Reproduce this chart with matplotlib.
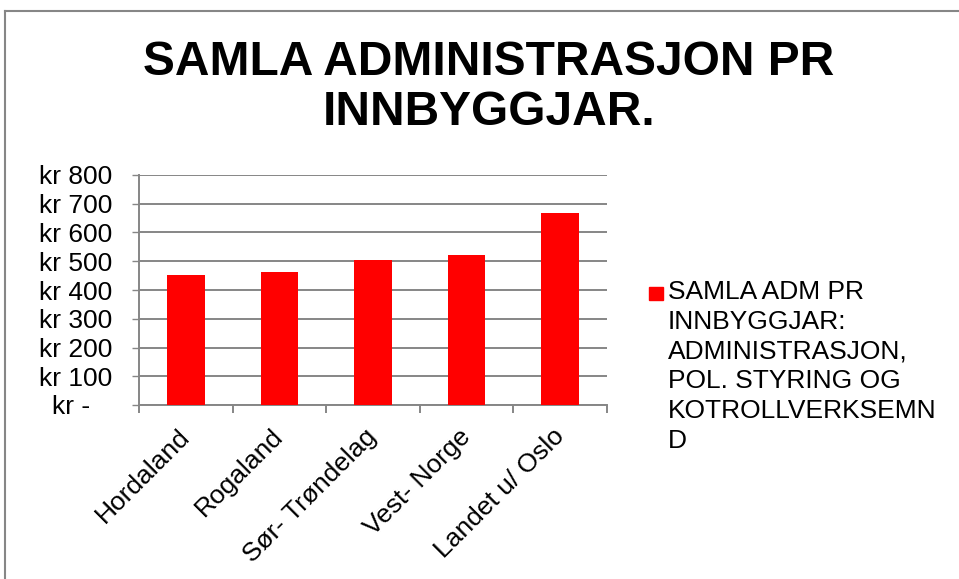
import matplotlib
matplotlib.use('Agg')
from matplotlib import pyplot as plt
from matplotlib.lines import Line2D
from matplotlib.patches import Rectangle
import numpy as np

plt.rcParams['font.family'] = ['Liberation Sans', 'DejaVu Sans']

regions = ['Hordaland', 'Rogaland', 'Sør- Trøndelag', 'Vest- Norge', 'Landet u/ Oslo']
adm_per_capita = [452, 461, 504, 523, 667]
y_ticks = [0, 100, 200, 300, 400, 500, 600, 700, 800]
y_labels = ['kr -   '] + ['kr %d' % v for v in y_ticks[1:]]
series_label = 'SAMLA ADM PR\nINNBYGGJAR:\nADMINISTRASJON,\nPOL. STYRING OG\nKOTROLLVERKSEMN\nD'
title = 'SAMLA ADMINISTRASJON PR\nINNBYGGJAR.'

grey = '#868686'
W, H = 959, 579
fig = plt.figure(figsize=(W / 100, H / 100), dpi=100)
ax = fig.add_axes([139 / W, 1 - 405 / H, (607 - 139) / W, (405 - 175) / H])

x = np.arange(len(regions))
ax.bar(x, adm_per_capita, width=0.4, color='#ff0000', zorder=3)
ax.set_xlim(-0.5, len(regions) - 0.5)
ax.set_ylim(0, 800)

ax.set_yticks(y_ticks)
ax.set_yticklabels(y_labels, fontsize=19)
ax.yaxis.grid(True, color=grey, linewidth=1.4, zorder=0)
ax.tick_params(axis='y', length=5, color=grey, width=1, pad=14)

ax.set_xticks(x)
ax.set_xticklabels(regions, fontsize=19, rotation=45, ha='right', va='center',
                   rotation_mode='anchor')
ax.set_xticks(np.arange(len(regions) + 1) - 0.5, minor=True)
ax.tick_params(axis='x', which='major', length=0, pad=20)
ax.tick_params(axis='x', which='minor', length=6, color=grey, width=1.4)

for s in ['top', 'right']:
    ax.spines[s].set_visible(False)
for s in ['left', 'bottom']:
    ax.spines[s].set_color(grey)
    ax.spines[s].set_linewidth(1.4)

fig.text(489 / W, 1 - 40 / H, title, ha='center', va='top', fontsize=34.5,
         fontweight='bold', linespacing=1.13)

# legend
fig.add_artist(Rectangle((649 / W, 1 - 300 / H), 14 / W, 13 / H,
                         transform=fig.transFigure, color='#ff0000'))
fig.text(668 / W, 1 - 280 / H, series_label, ha='left', va='top', fontsize=19,
         linespacing=1.3)

# chart border
fig.add_artist(Line2D([5 / W, 1], [1 - 11 / H, 1 - 11 / H], color=grey, lw=1.5,
                      transform=fig.transFigure))
fig.add_artist(Line2D([5 / W, 5 / W], [0, 1 - 11 / H], color=grey, lw=1.5,
                      transform=fig.transFigure))

fig.savefig('out.png', dpi=100)
